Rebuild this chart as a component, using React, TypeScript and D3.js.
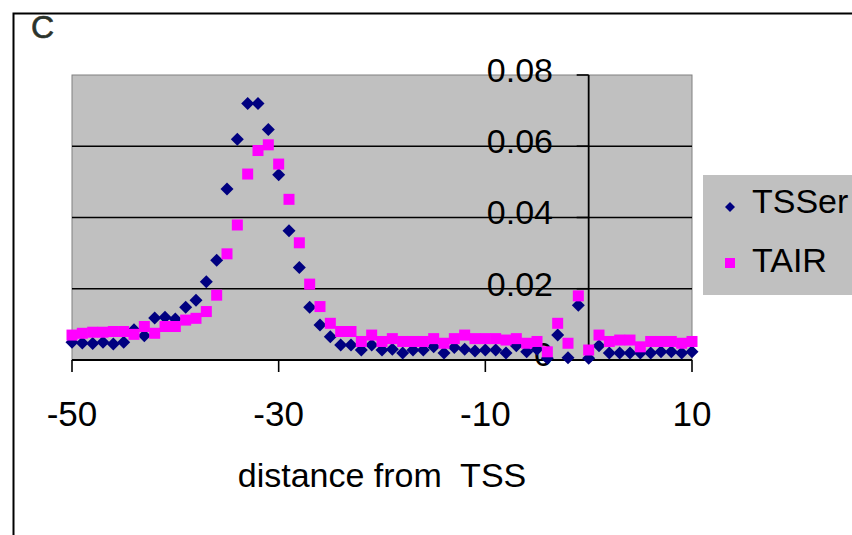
import React from "react";
import * as d3 from "d3";

const positions = [-50,-49,-48,-47,-46,-45,-44,-43,-42,-41,-40,-39,-38,-37,-36,-35,-34,-33,-32,-31,-30,-29,-28,-27,-26,-25,-24,-23,-22,-21,-20,-19,-18,-17,-16,-15,-14,-13,-12,-11,-10,-9,-8,-7,-6,-5,-4,-3,-2,-1,0,1,2,3,4,5,6,7,8,9,10];

const tsser = [0.005,0.0048,0.0046,0.005,0.0045,0.005,0.0085,0.0068,0.0118,0.012,0.0115,0.0148,0.0168,0.022,0.028,0.048,0.062,0.072,0.072,0.0647,0.052,0.0363,0.026,0.0148,0.0098,0.0065,0.0042,0.0042,0.0028,0.0042,0.0028,0.003,0.002,0.0028,0.0028,0.0037,0.002,0.0035,0.003,0.0025,0.0028,0.0028,0.002,0.004,0.0023,0.003,0.0005,0.007,0.0006,0.0154,0.0005,0.004,0.002,0.002,0.002,0.002,0.002,0.0023,0.0023,0.002,0.0023];

const tair = [0.007,0.0075,0.0078,0.0078,0.008,0.008,0.0072,0.0094,0.0075,0.0094,0.0094,0.0112,0.0117,0.0136,0.0182,0.0298,0.0379,0.0522,0.0588,0.0604,0.055,0.0451,0.0329,0.0213,0.015,0.0103,0.008,0.008,0.0052,0.007,0.0052,0.006,0.0052,0.0052,0.0052,0.006,0.0047,0.006,0.007,0.006,0.006,0.006,0.0056,0.006,0.0047,0.0052,0.0023,0.0103,0.0047,0.018,0.0028,0.007,0.0052,0.0056,0.0056,0.0037,0.0052,0.0052,0.0052,0.0047,0.0052];

const xTicks = [-50, -30, -10, 10];
const yTicks = [0, 0.02, 0.04, 0.06, 0.08];
const gridTicks = [0.02, 0.04, 0.06];
const seriesNames = ["TSSer", "TAIR"];

const W = 852, H = 535;
const FONT = "'Liberation Sans', Arial, sans-serif";

function diamond(cx: number, cy: number, r: number) {
  return `M${cx},${cy - r}L${cx + r},${cy}L${cx},${cy + r}L${cx - r},${cy}Z`;
}

export default function App() {
  const x = d3.scaleLinear().domain([-50, 10]).range([72, 692]);
  const y = d3.scaleLinear().domain([0, 0.08]).range([360, 75]);
  const x0 = x(0);
  const fmt = (v: number) => (v === 0 ? "0" : d3.format(".2f")(v));

  return (
    <svg width={W} height={H} style={{ position: "absolute", left: 0, top: 0, background: "#fff" }} fontFamily={FONT}>
      <rect x={0} y={0} width={W} height={H} fill="#fff" />
      {/* outer frame */}
      <path d={`M13.5,${H}L13.5,13.5L${W},13.5`} fill="none" stroke="#000" strokeWidth={2} />
      <text x={31} y={38} fontSize={32} fill="#2b332b" stroke="#2b332b" strokeWidth={0.6}>C</text>

      {/* plot area */}
      <rect x={x(-50)} y={y(0.08)} width={x(10) - x(-50)} height={y(0) - y(0.08)} fill="#c0c0c0" stroke="#808080" strokeWidth={1} />
      {gridTicks.map((t) => (
        <line key={t} x1={x(-50)} x2={x(10)} y1={y(t)} y2={y(t)} stroke="#000" strokeWidth={1.6} />
      ))}

      {/* y axis at x=0 */}
      <line x1={x0} x2={x0} y1={y(0.08)} y2={y(0)} stroke="#000" strokeWidth={1.8} />
      {yTicks.map((t) => (
        <g key={t}>
          <line x1={x0 - 12} x2={x0} y1={y(t)} y2={y(t)} stroke="#000" strokeWidth={1.6} />
          <text x={553} y={y(t)} dy={t === 0 ? "0.18em" : "0.2em"} textAnchor="end" fontSize={34} fill="#000">{fmt(t)}</text>
        </g>
      ))}

      {/* x axis */}
      <line x1={x(-50)} x2={x(10)} y1={y(0)} y2={y(0)} stroke="#000" strokeWidth={1.8} />
      {xTicks.map((t) => (
        <g key={t}>
          <line x1={x(t)} x2={x(t)} y1={y(0)} y2={y(0) + 12} stroke="#000" strokeWidth={1.6} />
          <text x={x(t)} y={426} textAnchor="middle" fontSize={35} fill="#000">{t}</text>
        </g>
      ))}
      <text x={382} y={487} textAnchor="middle" fontSize={34} fill="#000" style={{ whiteSpace: "pre" }}>distance from  TSS</text>

      {/* series */}
      {positions.map((p, i) => (
        <path key={"d" + p} d={diamond(x(p), y(tsser[i]), 6.5)} fill="#000080" />
      ))}
      {positions.map((p, i) => (
        <rect key={"s" + p} x={x(p) - 5.5} y={y(tair[i]) - 5.5} width={11} height={11} fill="#ff00ff" />
      ))}

      {/* legend */}
      <rect x={703} y={175} width={170} height={120} fill="#c0c0c0" />
      <path d={diamond(730, 207, 5)} fill="#000080" />
      <text x={752} y={213} fontSize={34} fill="#000">{seriesNames[0]}</text>
      <rect x={725} y={258} width={10} height={10} fill="#ff00ff" />
      <text x={752} y={272} fontSize={34} fill="#000">{seriesNames[1]}</text>
    </svg>
  );
}
